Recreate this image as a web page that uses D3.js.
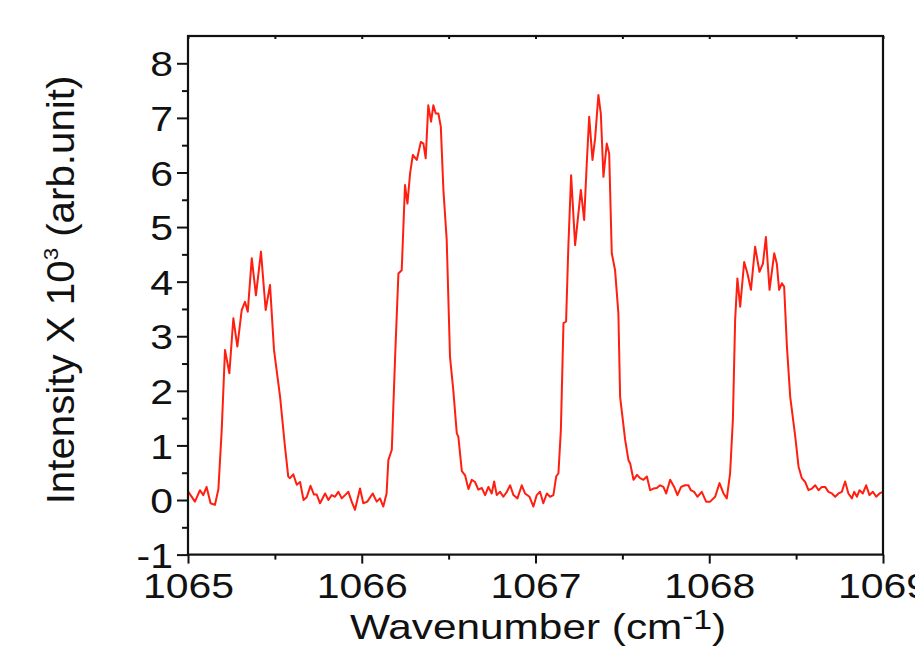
<!DOCTYPE html>
<html>
<head>
<meta charset="utf-8">
<title>Raman spectrum</title>
<script src="https://d3js.org/d3.v7.min.js"></script>
<style>
  body { margin: 0; background: #fff; }
  text { font-family: "Liberation Sans", Arial, sans-serif; fill: #111; }
</style>
</head>
<body>
<div id="chart"></div>
<script>
// data
var wavenumber = [
  1065.002, 1065.040, 1065.069, 1065.088, 1065.107, 1065.130, 1065.155, 1065.175, 1065.194, 1065.213,
  1065.238, 1065.261, 1065.284, 1065.309, 1065.328, 1065.344, 1065.367, 1065.391, 1065.420, 1065.447,
  1065.472, 1065.495, 1065.530, 1065.558, 1065.577, 1065.587, 1065.606, 1065.626, 1065.645, 1065.665,
  1065.683, 1065.705, 1065.725, 1065.741, 1065.760, 1065.789, 1065.808, 1065.827, 1065.846, 1065.865,
  1065.885, 1065.904, 1065.923, 1065.942, 1065.961, 1065.990, 1066.009, 1066.032, 1066.063, 1066.086,
  1066.105, 1066.124, 1066.143, 1066.153, 1066.173, 1066.192, 1066.211, 1066.230, 1066.239, 1066.249,
  1066.263, 1066.278, 1066.294, 1066.317, 1066.340, 1066.355, 1066.368, 1066.383, 1066.399, 1066.412,
  1066.426, 1066.441, 1066.455, 1066.470, 1066.489, 1066.508, 1066.527, 1066.547, 1066.556, 1066.576,
  1066.595, 1066.614, 1066.633, 1066.652, 1066.671, 1066.691, 1066.710, 1066.729, 1066.748, 1066.762,
  1066.777, 1066.796, 1066.815, 1066.835, 1066.854, 1066.873, 1066.896, 1066.921, 1066.940, 1066.965,
  1066.988, 1067.007, 1067.026, 1067.045, 1067.065, 1067.084, 1067.103, 1067.119, 1067.132, 1067.146,
  1067.161, 1067.176, 1067.189, 1067.205, 1067.228, 1067.261, 1067.280, 1067.295, 1067.309, 1067.328,
  1067.343, 1067.362, 1067.376, 1067.391, 1067.410, 1067.424, 1067.439, 1067.458, 1067.477, 1067.487,
  1067.516, 1067.535, 1067.545, 1067.564, 1067.584, 1067.602, 1067.621, 1067.641, 1067.660, 1067.679,
  1067.698, 1067.717, 1067.736, 1067.752, 1067.775, 1067.798, 1067.817, 1067.838, 1067.861, 1067.880,
  1067.894, 1067.913, 1067.932, 1067.957, 1067.982, 1068.005, 1068.034, 1068.059, 1068.082, 1068.101,
  1068.120, 1068.136, 1068.149, 1068.162, 1068.178, 1068.201, 1068.220, 1068.240, 1068.264, 1068.289,
  1068.309, 1068.326, 1068.347, 1068.374, 1068.389, 1068.402, 1068.418, 1068.431, 1068.447, 1068.466,
  1068.495, 1068.514, 1068.533, 1068.552, 1068.571, 1068.591, 1068.610, 1068.629, 1068.648, 1068.667,
  1068.686, 1068.706, 1068.725, 1068.744, 1068.763, 1068.782, 1068.801, 1068.821, 1068.834, 1068.850,
  1068.865, 1068.884, 1068.903, 1068.922, 1068.942, 1068.961, 1068.980, 1069.000
];
var intensity = [
  0.15, -0.03, 0.18, 0.09, 0.24, -0.06, -0.09, 0.20, 1.28, 2.75,
  2.32, 3.33, 2.81, 3.48, 3.63, 3.45, 4.43, 3.75, 4.55, 3.48,
  3.94, 2.75, 1.89, 0.98, 0.43, 0.40, 0.47, 0.28, 0.33, 0.00,
  0.05, 0.26, 0.10, 0.10, -0.06, 0.12, 0.00, 0.09, 0.06, 0.15,
  0.03, 0.09, 0.15, -0.03, -0.18, 0.21, -0.06, -0.03, 0.12, -0.03,
  0.03, -0.12, 0.12, 0.73, 0.92, 2.62, 4.15, 4.21, 4.95, 5.77,
  5.43, 5.98, 6.32, 6.23, 6.56, 6.53, 6.26, 7.23, 6.93, 7.23,
  7.08, 7.08, 6.84, 5.68, 4.76, 2.62, 2.01, 1.22, 1.16, 0.53,
  0.45, 0.20, 0.37, 0.33, 0.19, 0.22, 0.09, 0.24, 0.12, 0.34,
  0.09, 0.15, 0.06, 0.15, 0.27, 0.09, 0.03, 0.27, 0.12, 0.06,
  -0.12, 0.09, 0.15, -0.06, 0.12, 0.06, 0.09, 0.43, 0.49, 1.28,
  3.24, 3.27, 4.64, 5.95, 4.67, 5.68, 5.13, 6.17, 7.02, 6.23,
  6.62, 7.42, 7.08, 5.92, 6.53, 6.35, 4.52, 4.21, 3.42, 1.89,
  1.10, 0.73, 0.67, 0.37, 0.46, 0.40, 0.37, 0.43, 0.18, 0.21,
  0.22, 0.27, 0.24, 0.12, 0.37, 0.24, 0.09, 0.24, 0.27, 0.27,
  0.18, 0.15, 0.06, 0.15, -0.03, -0.03, 0.06, 0.31, 0.12, 0.03,
  0.49, 1.47, 3.30, 4.06, 3.54, 4.36, 4.15, 3.85, 4.64, 4.18,
  4.33, 4.82, 3.85, 4.52, 4.33, 3.85, 3.97, 3.91, 2.81, 1.89,
  1.16, 0.61, 0.40, 0.33, 0.18, 0.21, 0.27, 0.18, 0.24, 0.24,
  0.15, 0.12, 0.06, 0.12, 0.15, 0.34, 0.12, 0.03, 0.15, 0.06,
  0.18, 0.12, 0.27, 0.09, 0.15, 0.06, 0.12, 0.15
];
var xTicks = [1065, 1066, 1067, 1068, 1069];
var xMinor = [1065.5, 1066.5, 1067.5, 1068.5];
var yTicks = [-1, 0, 1, 2, 3, 4, 5, 6, 7, 8];
var yMinor = [-0.5, 0.5, 1.5, 2.5, 3.5, 4.5, 5.5, 6.5, 7.5];

var W = 915, H = 646;
var margin = { top: 36, left: 188 },
    width = 695,
    height = 518.6;
var stretch = 1.17;  // the original lettering is wider than Arial

var svg = d3.select("#chart").append("svg")
    .attr("width", W)
    .attr("height", H);
svg.append("rect").attr("width", W).attr("height", H).attr("fill", "#fff");

var g = svg.append("g")
    .attr("transform", "translate(" + margin.left + "," + margin.top + ")");

var x = d3.scaleLinear().domain([1065, 1069]).range([0, width]);
var y = d3.scaleLinear().domain([-1, 8.5]).range([height, 0]);

// spectrum
var pts = wavenumber.map((w, i) => [w, intensity[i]]);
g.append("path")
    .datum(pts)
    .attr("fill", "none")
    .attr("stroke", "#ff1f10")
    .attr("stroke-width", 2)
    .attr("stroke-linejoin", "round")
    .attr("d", d3.line().x(d => x(d[0])).y(d => y(d[1])));

// minor ticks
g.append("g")
    .attr("transform", "translate(0," + height + ")")
    .call(d3.axisBottom(x).tickValues(xMinor).tickSize(5).tickFormat(""))
    .call(a => a.select(".domain").remove());
g.append("g")
    .call(d3.axisLeft(y).tickValues(yMinor).tickSize(6).tickFormat(""))
    .call(a => a.select(".domain").remove());
g.append("g")
    .call(d3.axisTop(x).tickValues(xTicks.concat(xMinor)).tickSize(-3).tickFormat(""))
    .call(a => a.select(".domain").remove());

// major ticks with labels
var xAxis = g.append("g")
    .attr("transform", "translate(0," + height + ")")
    .call(d3.axisBottom(x).tickValues(xTicks).tickSize(9).tickFormat(d => String(d)));
xAxis.select(".domain").remove();
xAxis.selectAll("text")
    .attr("y", 43)
    .attr("dy", null)
    .attr("transform", "scale(" + stretch + ",1)")
    .style("font-size", "35px");

var yAxis = g.append("g")
    .call(d3.axisLeft(y).tickValues(yTicks).tickSize(11).tickFormat(d => String(d)));
yAxis.select(".domain").remove();
yAxis.selectAll("text")
    .attr("x", -15 / stretch)
    .attr("dy", "0.36em")
    .attr("transform", "scale(" + stretch + ",1)")
    .style("font-size", "35px");

g.selectAll(".tick line").attr("stroke", "#111").attr("stroke-width", 2);

// frame
g.append("rect")
    .attr("width", width)
    .attr("height", height)
    .attr("fill", "none")
    .attr("stroke", "#111")
    .attr("stroke-width", 2.2);

// axis titles
var xt = svg.append("text")
    .attr("transform", "translate(538,639) scale(1.21,1)")
    .attr("text-anchor", "middle")
    .style("font-size", "35px");
xt.append("tspan").text("Wavenumber (cm");
xt.append("tspan").attr("dy", -14).style("font-size", "27px").text("-");
xt.append("tspan").attr("dy", 4).style("font-size", "28px").text("1");
xt.append("tspan").attr("dy", 10).text(")");

var yt = svg.append("text")
    .attr("transform", "translate(74,290) rotate(-90) scale(1.06,1)")
    .attr("text-anchor", "middle")
    .style("font-size", "38px");
yt.append("tspan").text("Intensity X 10");
yt.append("tspan").attr("dy", -16).style("font-size", "21px").text("3");
yt.append("tspan").attr("dy", 16).text(" (arb.unit)");
</script>
</body>
</html>
